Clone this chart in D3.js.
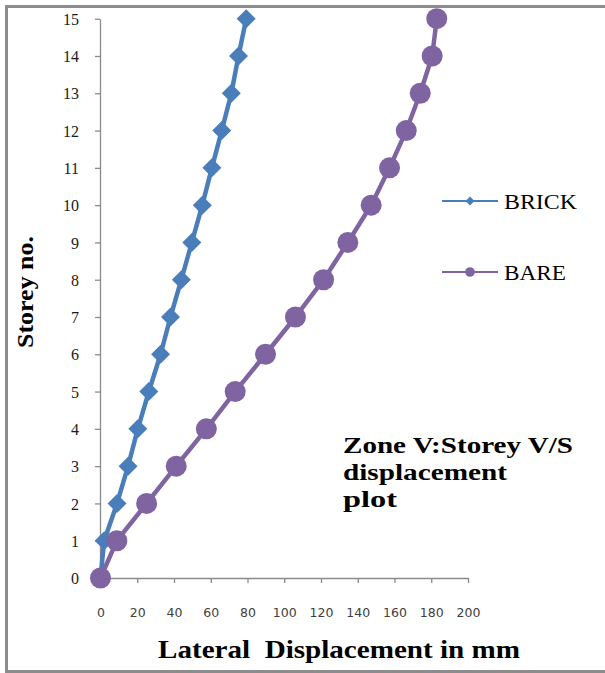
<!DOCTYPE html>
<html>
<head>
<meta charset="utf-8">
<script src="https://cdn.jsdelivr.net/npm/d3@7"></script>
<style>
  html, body { margin: 0; padding: 0; background: #fff; }
  svg { display: block; }
</style>
</head>
<body>
<svg id="chart" width="605" height="673"></svg>
<script>
// Storey numbers (y axis) and lateral displacement (mm) per storey
const storeys = [0, 1, 2, 3, 4, 5, 6, 7, 8, 9, 10, 11, 12, 13, 14, 15];
const brick = [0, 2, 9, 15, 20.3, 26.3, 32.7, 38.1, 44, 49.7, 55.4, 60.6, 66, 71.2, 75.1, 79.3];
const bare = [0, 8.9, 25.1, 41.2, 57.6, 73.3, 89.8, 106.1, 121.4, 134.6, 147.3, 157.3, 166.4, 174, 180.5, 183];
const xTicks = [0, 20, 40, 60, 80, 100, 120, 140, 160, 180, 200];
const yTicks = [0, 1, 2, 3, 4, 5, 6, 7, 8, 9, 10, 11, 12, 13, 14, 15];
const seriesNames = ["BRICK", "BARE"];
const titleLines = ["Zone V:Storey V/S", "displacement", "plot"];

const svg = d3.select("#chart");
const serif = "'Liberation Serif', 'Times New Roman', Times, serif";
const sans = "'DejaVu Sans', Verdana, sans-serif";
const blue = "#4a7ebb";
const purple = "#8064a2";
const axisGrey = "#8a8a8a";

// frame around the chart area
svg.append("rect")
  .attr("x", 6.5).attr("y", 6.5)
  .attr("width", 700).attr("height", 665)
  .attr("fill", "none")
  .attr("stroke", "#8c8c8c")
  .attr("stroke-width", 3);

const x = d3.scaleLinear().domain([0, 200]).range([100.5, 468]);
const y = d3.scaleLinear().domain([0, 15]).range([578, 18.7]);

// x axis
const gx = svg.append("g")
  .attr("transform", `translate(0,${y(0)})`)
  .call(d3.axisBottom(x).tickValues(xTicks).tickSize(5).tickSizeOuter(0).tickFormat(d3.format("d")));
gx.select(".domain").attr("stroke", axisGrey).attr("stroke-width", 1.3);
gx.selectAll(".tick line").attr("stroke", axisGrey).attr("stroke-width", 1.3);
gx.selectAll(".tick text")
  .attr("y", 35).attr("dy", "0.35em")
  .attr("font-family", sans).attr("font-size", 12.5)
  .attr("fill", "#404040");

// y axis
const gy = svg.append("g")
  .attr("transform", `translate(${x(0) - 0.5},0)`)
  .call(d3.axisLeft(y).tickValues(yTicks).tickSize(5).tickSizeOuter(0).tickFormat(d3.format("d")));
gy.select(".domain").attr("stroke", axisGrey).attr("stroke-width", 1.3);
gy.selectAll(".tick line").attr("stroke", axisGrey).attr("stroke-width", 1.3);
gy.selectAll(".tick text")
  .attr("x", -21).attr("dy", "0.35em")
  .attr("font-family", serif).attr("font-size", 16)
  .attr("fill", "#1a1a1a");

const diamond = h => `M0,${-h}L${h},0L0,${h}L${-h},0Z`;

const line = d3.line()
  .x(d => x(d.v))
  .y(d => y(d.s));

const brickPts = storeys.map((s, i) => ({ s, v: brick[i] }));
const barePts = storeys.map((s, i) => ({ s, v: bare[i] }));

// BRICK series: line with diamond markers
svg.append("path")
  .datum(brickPts)
  .attr("d", line)
  .attr("fill", "none")
  .attr("stroke", blue)
  .attr("stroke-width", 4.5)
  .attr("stroke-linejoin", "round");
svg.append("g").selectAll("path")
  .data(brickPts)
  .join("path")
  .attr("transform", d => `translate(${x(d.v)},${y(d.s)})`)
  .attr("d", diamond(9.5))
  .attr("fill", blue);

// BARE series: line with circle markers
svg.append("path")
  .datum(barePts)
  .attr("d", line)
  .attr("fill", "none")
  .attr("stroke", purple)
  .attr("stroke-width", 4.5)
  .attr("stroke-linejoin", "round");
svg.append("g").selectAll("circle")
  .data(barePts)
  .join("circle")
  .attr("cx", d => x(d.v))
  .attr("cy", d => y(d.s))
  .attr("r", 10.5)
  .attr("fill", purple);

// legend
const legend = svg.append("g");
const legendRows = [
  { name: seriesNames[0], color: blue, y: 201, marker: "diamond", len: 73 },
  { name: seriesNames[1], color: purple, y: 272, marker: "circle", len: 62 }
];
legendRows.forEach(r => {
  legend.append("line")
    .attr("x1", 442).attr("x2", 498)
    .attr("y1", r.y).attr("y2", r.y)
    .attr("stroke", r.color).attr("stroke-width", 2.2);
  if (r.marker === "diamond") {
    legend.append("path")
      .attr("transform", `translate(470,${r.y})`)
      .attr("d", diamond(4.5))
      .attr("fill", r.color);
  } else {
    legend.append("circle")
      .attr("cx", 470).attr("cy", r.y).attr("r", 4.8)
      .attr("fill", r.color);
  }
  legend.append("text")
    .attr("x", 504).attr("y", r.y + 7.5)
    .attr("font-family", serif).attr("font-size", 20)
    .attr("textLength", r.len).attr("lengthAdjust", "spacingAndGlyphs")
    .attr("fill", "#000")
    .text(r.name);
});

// annotation inside the plot
const note = svg.append("g");
const noteLens = [230, 164, 54];
titleLines.forEach((t, i) => {
  note.append("text")
    .attr("x", 343).attr("y", 453 + i * 26.8)
    .attr("font-family", serif).attr("font-weight", "bold").attr("font-size", 23)
    .attr("textLength", noteLens[i]).attr("lengthAdjust", "spacingAndGlyphs")
    .attr("fill", "#000")
    .text(t);
});

// axis titles
svg.append("text")
  .attr("x", 158).attr("y", 658)
  .attr("font-family", serif).attr("font-weight", "bold").attr("font-size", 25)
  .attr("textLength", 362).attr("lengthAdjust", "spacingAndGlyphs")
  .attr("fill", "#000")
  .attr("xml:space", "preserve")
  .text("Lateral  Displacement in mm");

svg.append("text")
  .attr("transform", "translate(33,348) rotate(-90)")
  .attr("x", 0).attr("y", 0)
  .attr("font-family", serif).attr("font-weight", "bold").attr("font-size", 23)
  .attr("textLength", 112).attr("lengthAdjust", "spacingAndGlyphs")
  .attr("fill", "#000")
  .text("Storey no.");
</script>
</body>
</html>
